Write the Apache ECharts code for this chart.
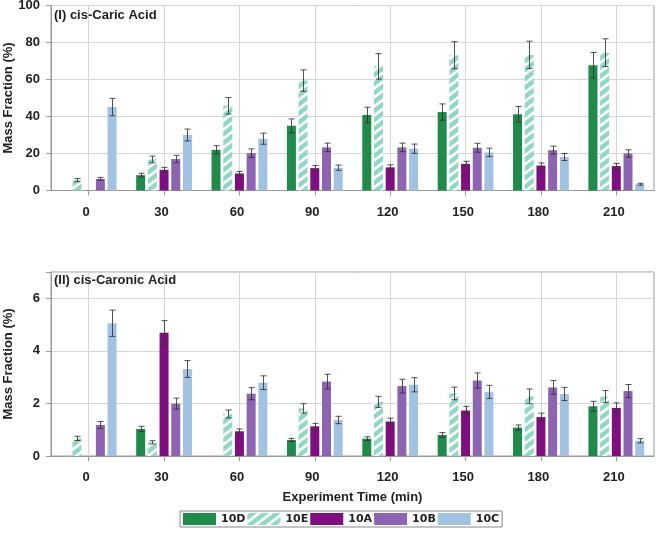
<!DOCTYPE html>
<html>
<head>
<meta charset="utf-8">
<script src="https://cdn.jsdelivr.net/npm/echarts@6/dist/echarts.min.js"></script>
<style>
html,body{margin:0;padding:0;background:#fff;}
#chart{width:661px;height:533px;}
</style>
</head>
<body>
<div id="chart"></div>
<script>
// ---- data ----
const categories = ['0', '30', '60', '90', '120', '150', '180', '210'];
const seriesNames = ['10D', '10E', '10A', '10B', '10C'];

// (I) cis-Caric Acid
const caric10D = [null, 8.3, 22.0, 35.0, 40.8, 42.4, 41.2, 67.7];
const caric10DErr = [null, 1.0, 2.2, 3.7, 4.2, 4.4, 4.2, 6.9];
const caric10E = [5.6, 16.8, 45.8, 59.4, 67.1, 73.1, 73.3, 74.5];
const caric10EErr = [0.9, 1.8, 4.5, 5.8, 6.9, 7.3, 7.4, 7.5];
const caric10A = [null, 11.2, 9.2, 12.1, 12.5, 14.4, 13.5, 13.2];
const caric10AErr = [null, 1.3, 1.1, 1.4, 1.4, 1.4, 1.4, 1.4];
const caric10B = [6.3, 17.0, 20.2, 23.3, 23.3, 23.1, 21.8, 20.0];
const caric10BErr = [0.8, 2.0, 2.3, 2.3, 2.3, 2.4, 2.2, 2.0];
const caric10C = [45.1, 30.0, 28.0, 12.3, 22.6, 20.6, 18.1, 3.4];
const caric10CErr = [4.7, 3.2, 3.0, 1.4, 2.5, 2.3, 1.9, 0.5];

// (II) cis-Caronic Acid
const caronic10D = [null, 1.03, null, 0.61, 0.66, 0.80, 1.08, 1.89];
const caronic10DErr = [null, 0.10, null, 0.06, 0.07, 0.09, 0.10, 0.19];
const caronic10E = [0.67, 0.52, 1.60, 1.81, 2.06, 2.38, 2.27, 2.26];
const caronic10EErr = [0.08, 0.06, 0.15, 0.18, 0.21, 0.24, 0.28, 0.23];
const caronic10A = [null, 4.69, 0.94, 1.13, 1.31, 1.73, 1.48, 1.83];
const caronic10AErr = [null, 0.46, 0.09, 0.11, 0.13, 0.16, 0.15, 0.19];
const caronic10B = [1.18, 1.99, 2.37, 2.83, 2.66, 2.87, 2.61, 2.47];
const caronic10BErr = [0.13, 0.21, 0.23, 0.28, 0.26, 0.29, 0.26, 0.25];
const caronic10C = [5.05, 3.31, 2.79, 1.37, 2.71, 2.44, 2.36, 0.58];
const caronic10CErr = [0.50, 0.32, 0.26, 0.14, 0.27, 0.25, 0.25, 0.08];

const panelTitles = ['(I) cis-Caric Acid', '(II) cis-Caronic Acid'];
const yTicksTop = [0, 20, 40, 60, 80, 100];
const yTicksBottom = [0, 2, 4, 6];

// ---- styling ----
const TEAL = '#8fd8c4';
function stripePattern() {
  const w = 12, h = 9;
  const c = document.createElement('canvas');
  c.width = w; c.height = h;
  const ctx = c.getContext('2d');
  ctx.fillStyle = TEAL;
  ctx.fillRect(0, 0, w, h);
  ctx.strokeStyle = '#ffffff';
  ctx.lineWidth = 2.8;
  for (let dx = -w; dx <= w; dx += w) {
    for (let dy = -h; dy <= h; dy += h) {
      ctx.beginPath();
      ctx.moveTo(dx, h + dy);
      ctx.lineTo(w + dx, dy);
      ctx.stroke();
    }
  }
  return { image: c, repeat: 'repeat' };
}
const colors = {
  '10D': '#1f8a4a',
  '10E': stripePattern(),
  '10A': '#7f0f7e',
  '10B': '#8c64b1',
  '10C': '#a2c2e2'
};

const CAT_GAP = 0.26, BAR_GAP = 0.3, NBARS = 5;
const FONT = '"Liberation Sans", Arial, sans-serif';
const GRIDLINE = '#d6d6d6';

const panels = [
  { vals: [caric10D, caric10E, caric10A, caric10B, caric10C],
    errs: [caric10DErr, caric10EErr, caric10AErr, caric10BErr, caric10CErr] },
  { vals: [caronic10D, caronic10E, caronic10A, caronic10B, caronic10C],
    errs: [caronic10DErr, caronic10EErr, caronic10AErr, caronic10BErr, caronic10CErr] }
];

function errRenderer(idx) {
  return function (params, api) {
    const ci = api.value(0), v = api.value(1), e = api.value(2);
    const band = api.size([1, 0])[0];
    const groupW = band * (1 - CAT_GAP);
    const barW = groupW / (NBARS + (NBARS - 1) * BAR_GAP);
    const off = -groupW / 2 + idx * barW * (1 + BAR_GAP) + barW / 2;
    const hi = api.coord([ci, v + e]);
    const lo = api.coord([ci, v - e]);
    const x = Math.round(hi[0] + off) + 0.5;
    const cap = 3;
    const style = { stroke: '#333333', lineWidth: 1, opacity: 0.85 };
    return {
      type: 'group',
      children: [
        { type: 'line', shape: { x1: x, y1: hi[1], x2: x, y2: lo[1] }, style: style },
        { type: 'line', shape: { x1: x - cap, y1: hi[1], x2: x + cap, y2: hi[1] }, style: style },
        { type: 'line', shape: { x1: x - cap, y1: lo[1], x2: x + cap, y2: lo[1] }, style: style }
      ]
    };
  };
}

const series = [];
panels.forEach((p, gi) => {
  seriesNames.forEach((name, si) => {
    series.push({
      name: name,
      type: 'bar',
      xAxisIndex: gi, yAxisIndex: gi,
      data: p.vals[si],
      barGap: (BAR_GAP * 100) + '%',
      barCategoryGap: (CAT_GAP * 100) + '%',
      itemStyle: { color: colors[name] },
      emphasis: { disabled: true },
      animation: false
    });
  });
  seriesNames.forEach((name, si) => {
    const d = [];
    p.vals[si].forEach((v, ci) => {
      if (v !== null) d.push([ci, v, p.errs[si][ci]]);
    });
    series.push({
      name: name + ' err',
      type: 'custom',
      xAxisIndex: gi, yAxisIndex: gi,
      data: d,
      renderItem: errRenderer(si),
      z: 5,
      silent: true,
      animation: false
    });
  });
});

function xAxisOpt(gi) {
  const o = {
    type: 'category',
    gridIndex: gi,
    data: categories,
    axisLine: { show: true, lineStyle: { color: '#999', width: 1 } },
    axisTick: { show: true, alignWithLabel: true, length: 5, lineStyle: { color: '#999' } },
    axisLabel: { margin: 15, color: '#222', fontFamily: FONT, fontWeight: 'bold', fontSize: 13,
      padding: [0, 5, 0, 0] },
    splitLine: { show: true, alignWithLabel: true, lineStyle: { color: GRIDLINE, width: 1 } }
  };
  if (gi === 1) {
    o.name = 'Experiment Time (min)';
    o.nameLocation = 'middle';
    o.nameGap = 35;
    o.nameMoveOverlap = false;
    o.nameTextStyle = { color: '#222', fontFamily: FONT, fontWeight: 'bold', fontSize: 13 };
  }
  return o;
}
function yAxisOpt(gi, ticks) {
  const maxV = gi === 0 ? 100 : 7;
  return {
    type: 'value',
    gridIndex: gi,
    min: 0, max: maxV, interval: ticks[1] - ticks[0],
    name: 'Mass Fraction (%)',
    nameLocation: 'middle',
    nameGap: 36,
    nameMoveOverlap: false,
    nameTextStyle: { color: '#222', fontFamily: FONT, fontWeight: 'bold', fontSize: 13 },
    axisLine: { show: true, lineStyle: { color: '#999', width: 1 } },
    axisTick: { show: true, length: 5, lineStyle: { color: '#999' } },
    axisLabel: {
      margin: 11, color: '#222', fontFamily: FONT, fontWeight: 'bold', fontSize: 13,
      formatter: function (v) { return ticks.indexOf(v) >= 0 ? String(v) : ''; }
    },
    splitLine: { show: true, lineStyle: { color: GRIDLINE, width: 1 } }
  };
}

const option = {
  animation: false,
  backgroundColor: '#ffffff',
  title: [
    { text: panelTitles[0], left: 54, top: 9, padding: 0,
      textStyle: { color: '#222', fontFamily: FONT, fontWeight: 'bold', fontSize: 13 } },
    { text: panelTitles[1], left: 54, top: 274, padding: 0,
      textStyle: { color: '#222', fontFamily: FONT, fontWeight: 'bold', fontSize: 13 } }
  ],
  grid: [
    { left: 51, top: 5.5, width: 603, height: 185, show: true, borderColor: '#999', borderWidth: 1,
      backgroundColor: 'transparent', containLabel: false, outerBoundsMode: 'none' },
    { left: 51, top: 272, width: 603, height: 184, show: true, borderColor: '#999', borderWidth: 1,
      backgroundColor: 'transparent', containLabel: false, outerBoundsMode: 'none' }
  ],
  legend: {
    data: seriesNames,
    left: 180, top: 511,
    orient: 'horizontal',
    icon: 'rect',
    itemWidth: 33, itemHeight: 12, itemGap: 2,
    padding: [2, 3, 2, 3],
    borderColor: '#888', borderWidth: 1,
    textStyle: { color: '#222', fontFamily: '"DejaVu Sans", Verdana, sans-serif', fontWeight: 'bold', fontSize: 11 },
    selectedMode: false
  },
  xAxis: [xAxisOpt(0), xAxisOpt(1)],
  yAxis: [yAxisOpt(0, yTicksTop), yAxisOpt(1, yTicksBottom)],
  series: series
};

const chart = echarts.init(document.getElementById('chart'), null, { renderer: 'canvas' });
chart.setOption(option);
</script>
</body>
</html>
